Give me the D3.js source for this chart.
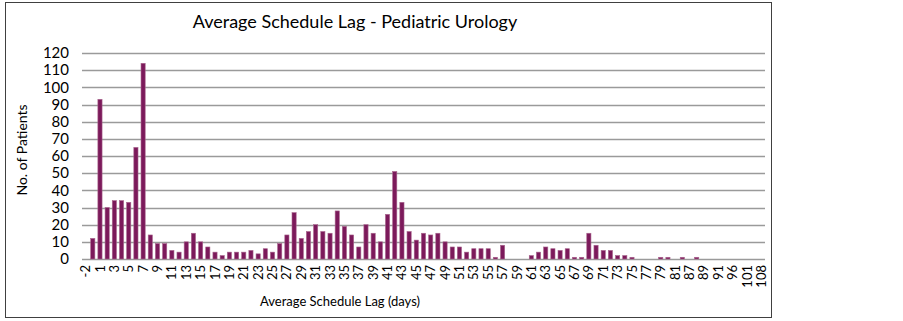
<!DOCTYPE html>
<html>
<head>
<meta charset="utf-8">
<script src="https://cdn.jsdelivr.net/npm/d3@7"></script>
<style>
    body { margin: 0; background: #fff; }
    text { font-family: Lato, "Open Sans", sans-serif; fill: #000; }
</style>
</head>
<body>
<svg width="903" height="321"></svg>
<script>
// schedule lag in days (only every other category gets a label)
let days = [-2, 0, 1, 2, 3, 4, 5, 6, 7, 8, 9, 10, 11, 12, 13, 14, 15, 16, 17, 18, 19,
    20, 21, 22, 23, 24, 25, 26, 27, 28, 29, 30, 31, 32, 33, 34, 35, 36, 37, 38, 39,
    40, 41, 42, 43, 44, 45, 46, 47, 48, 49, 50, 51, 52, 53, 54, 55, 56, 57, 58, 59,
    60, 61, 62, 63, 64, 65, 66, 67, 68, 69, 70, 71, 72, 73, 74, 75, 76, 77, 78, 79,
    80, 81, 84, 87, 88, 89, 90, 91, 93, 96, 98, 101, 105, 108];

let patients = [0, 12, 93, 30, 34, 34, 33, 65, 114, 14, 9, 9, 5, 4, 10, 15, 10, 7, 4, 2, 4,
    4, 4, 5, 3, 6, 4, 9, 14, 27, 12, 16, 20, 16, 15, 28, 19, 14, 7, 20, 15,
    10, 26, 51, 33, 16, 11, 15, 14, 15, 10, 7, 7, 4, 6, 6, 6, 1, 8, 0, 0,
    0, 2, 4, 7, 6, 5, 6, 1, 1, 15, 8, 5, 5, 2, 2, 1, 0, 0, 0, 1,
    1, 0, 1, 0, 1, 0, 0, 0, 0, 0, 0, 0, 0, 0];

let yTicks = [0, 10, 20, 30, 40, 50, 60, 70, 80, 90, 100, 110, 120];

let svg = d3.select("svg");

// outer frame
svg.append("rect")
    .attr("x", 5.5).attr("y", 2.5)
    .attr("width", 766).attr("height", 315)
    .attr("fill", "none")
    .attr("stroke", "#404040")
    .attr("stroke-width", 1);

let x = d3.scaleBand()
    .domain(days.map(String))
    .range([82, 765]);

let y = d3.scaleLinear()
    .domain([0, 120])
    .range([259, 53]);

// gridlines
svg.append("g")
    .selectAll("line")
    .data(yTicks)
    .enter().append("line")
    .attr("x1", 82).attr("x2", 765)
    .attr("y1", d => Math.round(y(d)) + 0.5)
    .attr("y2", d => Math.round(y(d)) + 0.5)
    .attr("stroke", "#9a9a9a")
    .attr("stroke-width", 1.6);

// y tick labels
svg.append("g")
    .selectAll("text")
    .data(yTicks)
    .enter().append("text")
    .attr("x", 69)
    .attr("y", d => y(d))
    .attr("dy", "0.35em")
    .attr("text-anchor", "end")
    .style("font-size", "15px")
    .text(d => d);

// bars
let barW = x.bandwidth() * 0.58;
svg.append("g")
    .selectAll("rect")
    .data(days.map((d, i) => ({ day: d, n: patients[i] })).filter(d => d.n > 0))
    .enter().append("rect")
    .attr("x", d => x(String(d.day)) + (x.bandwidth() - barW) / 2)
    .attr("y", d => y(d.n))
    .attr("width", barW)
    .attr("height", d => y(0) - y(d.n))
    .attr("fill", "#7c1a5b")
    .attr("stroke", "#a8648d")
    .attr("stroke-width", 0.6);

// x tick labels, every other category
let xAxis = d3.axisBottom(x)
    .tickValues(days.filter((d, i) => i % 2 === 0).map(String))
    .tickSize(0)
    .tickPadding(0);

let gx = svg.append("g")
    .attr("transform", "translate(0,259)")
    .call(xAxis);

gx.select(".domain").remove();

gx.selectAll("text")
    .attr("transform", "rotate(-90)")
    .attr("x", -6)
    .attr("y", 0)
    .attr("dy", "0.35em")
    .attr("text-anchor", "end")
    .style("font-size", "13px")
    .style("font-family", "Lato, 'Open Sans', sans-serif")
    .attr("fill", "#000");

// titles
svg.append("text")
    .attr("x", 355).attr("y", 28)
    .attr("text-anchor", "middle")
    .style("font-size", "18px")
    .text("Average Schedule Lag - Pediatric Urology");

svg.append("text")
    .attr("x", 340).attr("y", 306)
    .attr("text-anchor", "middle")
    .style("font-size", "13px")
    .text("Average Schedule Lag (days)");

svg.append("text")
    .attr("transform", "translate(27,150) rotate(-90)")
    .attr("text-anchor", "middle")
    .style("font-size", "14px")
    .text("No. of Patients");
</script>
</body>
</html>
